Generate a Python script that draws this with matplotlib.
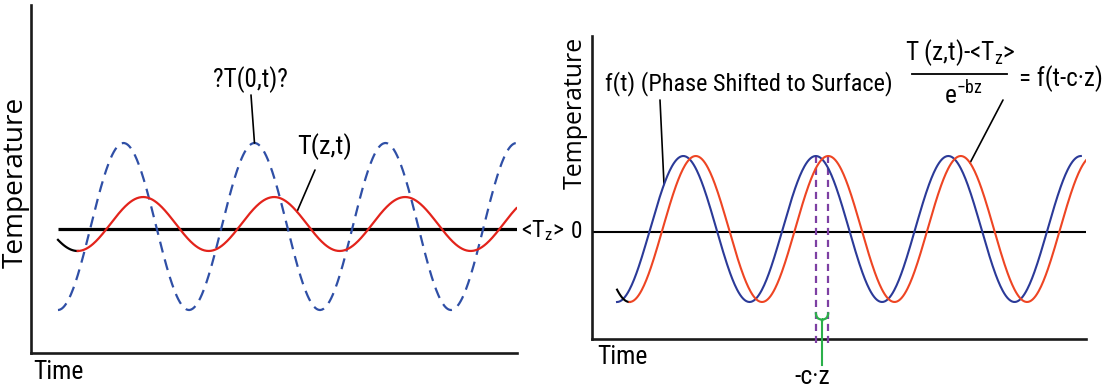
import numpy as np
import matplotlib
matplotlib.use("Agg")
import matplotlib.pyplot as plt
from matplotlib import font_manager as fm
from matplotlib.font_manager import FontProperties
from matplotlib.path import Path
from matplotlib.patches import PathPatch

W, H = 1104, 389
plt.rcParams['font.family'] = ['Open Sans', 'DejaVu Sans']
plt.rcParams['mathtext.default'] = 'regular'

# ---------------- data (time in cycles, temperature in relative units) -------------
# Left panel: surface wave ?T(0,t)? and damped wave at depth T(z,t)
L_xlim = (0.0, 3.71)
L_ylim = (-1.485, 2.683)
L_tz = 0.0                 # <Tz>
L_surf_mean, L_surf_amp = 0.03, 1.00
L_depth_mean, L_depth_amp = 0.06, 0.323
L_period = 1.0
L_start, L_end = 0.206, 3.706   # first trough / last peak of the surface wave
L_lag = 0.150                   # phase lag of T(z,t)

# Right panel: f(t) and normalised T(z,t)
R_xlim = (0.0, 3.728)
R_ylim = (-1.466, 2.685)
R_mean, R_amp = 0.041, 1.00
R_period = 1.0
R_start, R_blue_end, R_red_end = 0.189, 3.689, 3.728
R_lag = 0.094

# ---------------- colours ----------------
C_BLUE_DASH = '#2f4fa6'
C_RED_L = '#e3231b'
C_BLUE_R = '#2b3a98'
C_RED_R = '#ee4523'
C_PURPLE = '#7d3fa3'
C_GREEN = '#2bb04a'


def pick_narrow():
    bad = ('bold', 'italic', 'oblique', 'light', 'thin', 'black', 'medium', 'semibold',
           'extrabold', 'heavy')
    prefs = ['Liberation', 'Open Sans', 'Roboto', 'Noto Sans', 'DejaVu', 'Lato', 'Inter']
    found = []
    for f in fm.fontManager.ttflist:
        base = f.fname.rsplit('/', 1)[-1].lower()
        nm = f.name.lower()
        narrow = ('narrow' in nm or 'condensed' in nm or 'narrow' in base
                  or 'condensed' in base or str(f.stretch) in
                  ('condensed', 'semi-condensed', 'extra-condensed'))
        if not narrow or 'cjk' in nm or 'mono' in nm:
            continue
        stem = base.replace('condensed', '').replace('narrow', '')
        if any(b in stem for b in bad) or f.style != 'normal':
            continue
        rank = next((i for i, p in enumerate(prefs) if p.lower() in nm), 99)
        found.append((rank, f.fname))
    if found:
        found.sort()
        return FontProperties(fname=found[0][1])
    return FontProperties(family='Roboto')


NARROW = pick_narrow()
WIDE = FontProperties(family='Open Sans')


def px(x, y):
    return (x / W, 1 - y / H)


def wave(t, mean, amp, trough_t, period):
    return mean - amp * np.cos(2 * np.pi * (t - trough_t) / period)


fig = plt.figure(figsize=(W / 100, H / 100), dpi=100)
fitted = []


def ftext(x, y, s, width, ha='left', va='center', rotation=0, prop=None, boost=1.15):
    p = (prop or NARROW).copy()
    p.set_size(16)
    t = fig.text(*px(x, y), s, ha=ha, va=va, rotation=rotation, fontproperties=p)
    fitted.append((t, width, rotation, boost))
    return t


# ================= left panel =================
axL = fig.add_axes([31 / W, 1 - 353 / H, 486 / W, 348 / H])
axL.set_xlim(*L_xlim)
axL.set_ylim(*L_ylim)
for s in ('top', 'right'):
    axL.spines[s].set_visible(False)
for s in ('left', 'bottom'):
    axL.spines[s].set_linewidth(1.9)
    axL.spines[s].set_color('#1a1a1a')
axL.set_xticks([]); axL.set_yticks([])
axL.patch.set_alpha(0)

t = np.linspace(L_start, L_end, 600)
axL.plot(t, wave(t, L_surf_mean, L_surf_amp, L_start, L_period), color=C_BLUE_DASH,
         lw=1.6, dashes=(5, 3.2), zorder=3)
axL.hlines(L_tz, L_start, L_xlim[1], color='black', lw=2.3, zorder=2)
t_hook = np.linspace(L_start, L_start + L_lag, 60)
axL.plot(t_hook, wave(t_hook, L_depth_mean, L_depth_amp, L_start + L_lag, L_period),
         color='black', lw=1.6, zorder=4)
t_red = np.linspace(L_start + L_lag, L_end, 600)
axL.plot(t_red, wave(t_red, L_depth_mean, L_depth_amp, L_start + L_lag, L_period),
         color=C_RED_L, lw=1.6, zorder=4)

# annotations left
t_pk = L_start + 1.5 * L_period
axL.annotate('', xy=(t_pk, L_surf_mean + L_surf_amp), xycoords='data',
             xytext=px(251, 95), textcoords='figure fraction',
             arrowprops=dict(arrowstyle='-', lw=1.2, color='black', shrinkA=0, shrinkB=0))
t_a = (297 - 31) / 131.0
axL.annotate('', xy=(t_a, wave(t_a, L_depth_mean, L_depth_amp, L_start + L_lag, L_period)),
             xycoords='data', xytext=px(315, 170), textcoords='figure fraction',
             arrowprops=dict(arrowstyle='-', lw=1.2, color='black', shrinkA=0, shrinkB=0))

ftext(250, 80, '?T(0,t)?', 65, ha='center')
ftext(297, 147, 'T(z,t)', 48)
ftext(521, 231, r'<T$_{z}$>', 38)
ftext(16, 182, 'Temperature', 172, ha='center', rotation=90, prop=WIDE, boost=1.0)
ftext(33, 372, 'Time', 44)

# ================= right panel =================
axR = fig.add_axes([592 / W, 1 - 339 / H, 494 / W, 303 / H])
axR.set_xlim(*R_xlim)
axR.set_ylim(*R_ylim)
for s in ('top', 'right'):
    axR.spines[s].set_visible(False)
for s in ('left', 'bottom'):
    axR.spines[s].set_linewidth(1.9)
    axR.spines[s].set_color('#1a1a1a')
axR.set_xticks([]); axR.set_yticks([])
axR.patch.set_alpha(0)

axR.axhline(0, color='black', lw=1.5, zorder=2)
tb = np.linspace(R_start, R_blue_end, 600)
axR.plot(tb, wave(tb, R_mean, R_amp, R_start, R_period), color=C_BLUE_R, lw=1.5, zorder=4)
t_hook = np.linspace(R_start, R_start + R_lag, 40)
axR.plot(t_hook, wave(t_hook, R_mean, R_amp, R_start + R_lag, R_period), color='black',
         lw=1.5, zorder=4)
tr = np.linspace(R_start + R_lag, R_red_end, 600)
axR.plot(tr, wave(tr, R_mean, R_amp, R_start + R_lag, R_period), color=C_RED_R, lw=1.5,
         zorder=4)

# phase-shift marker
pb = R_start + 1.5 * R_period
pr = pb + R_lag
top = R_mean + R_amp
axR.vlines([pb, pr], R_ylim[0] - 0.05, top, colors=C_PURPLE, lw=1.6,
           linestyles=(0, (3.2, 2.2)), zorder=3, clip_on=False)
yb_top, yb_bot = -1.10, -1.20
pm = (pb + pr) / 2
verts = [(pb, yb_top), (pb, yb_bot), (pm, yb_bot), (pm, yb_bot - 0.03),
         (pm, yb_bot), (pr, yb_bot), (pr, yb_top)]
codes = [Path.MOVETO, Path.CURVE3, Path.CURVE3, Path.LINETO, Path.MOVETO,
         Path.CURVE3, Path.CURVE3]
axR.add_patch(PathPatch(Path(verts, codes), fill=False, edgecolor=C_GREEN, lw=1.6,
                        zorder=5))
axR.plot([pm, pm], [yb_bot - 0.03, R_ylim[0] - 0.36], color=C_GREEN, lw=1.5,
         clip_on=False, zorder=5)

# annotations right
t_f = (664 - 592) / 132.5
axR.annotate('', xy=(t_f, wave(t_f, R_mean, R_amp, R_start, R_period)), xycoords='data',
             xytext=px(660, 100), textcoords='figure fraction',
             arrowprops=dict(arrowstyle='-', lw=1.2, color='black', shrinkA=0, shrinkB=0))
t_g = (970 - 592) / 132.5
axR.annotate('', xy=(t_g, wave(t_g, R_mean, R_amp, R_start + R_lag, R_period)),
             xycoords='data', xytext=px(1003, 100), textcoords='figure fraction',
             arrowprops=dict(arrowstyle='-', lw=1.2, color='black', shrinkA=0, shrinkB=0))

ftext(577, 232, '0', 11, ha='center', boost=1.05)
ftext(575, 113, 'Temperature', 153, ha='center', rotation=90, prop=WIDE, boost=1.0)
ftext(597, 357, 'Time', 44)
ftext(812, 377, '-c\u00b7z', 31, ha='center')
ftext(605, 84, 'f(t) (Phase Shifted to Surface)', 263, boost=1.1)
num = ftext(960, 53, r'T (z,t)-<T$_{z}$>', 99, ha='center', boost=1.12)
fig.add_artist(plt.Line2D([912 / W, 1007 / W], [1 - 74 / H, 1 - 74 / H], color='black',
                          lw=1.3))
den_p = NARROW.copy()
den = fig.text(*px(963, 95), r'e$^{-bz}$', ha='center', va='center', fontproperties=den_p)
ftext(1019, 79, '= f(t-c\u00b7z)', 79, boost=1.06)

# scale every label so that its extent matches the reference
renderer = fig.canvas.get_renderer()
for txt, width, rot, boost in fitted:
    bb = txt.get_window_extent(renderer)
    cur = bb.width if rot == 0 else bb.height
    txt.set_fontsize(txt.get_fontsize() * width / cur * boost)
den.set_fontsize(num.get_fontsize())

fig.savefig('out.png', dpi=100, facecolor='white')
